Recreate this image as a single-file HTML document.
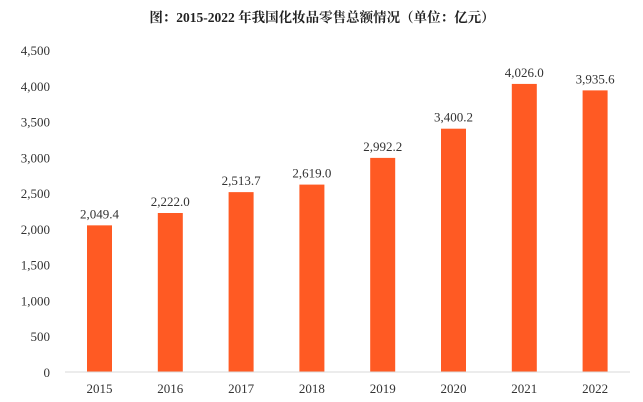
<!DOCTYPE html>
<html><head><meta charset="utf-8"><style>
body{margin:0;background:#fff;}
svg{display:block;}
text{font-family:"Liberation Serif","Noto Serif CJK SC",serif;}
</style></head><body>
<svg id="chart" width="643" height="402" viewBox="0 0 643 402">
<text x="322" y="22" text-anchor="middle" font-size="13.5" font-weight="bold" fill="#222" font-family="Liberation Serif, Noto Serif CJK SC, serif">图：2015-2022 年我国化妆品零售总额情况（单位：亿元）</text>
<g id="yaxis"></g><g id="bars"></g>
<line x1="65" y1="372" x2="630" y2="372" stroke="#d9d9d9" stroke-width="1"/>
</svg>
<script>
const categories=["2015","2016","2017","2018","2019","2020","2021","2022"];
const values=[2049.4,2222.0,2513.7,2619.0,2992.2,3400.2,4026.0,3935.6];
const valueLabels=["2,049.4","2,222.0","2,513.7","2,619.0","2,992.2","3,400.2","4,026.0","3,935.6"];
const ticks=[0,500,1000,1500,2000,2500,3000,3500,4000,4500];
const tickLabels=["0","500","1,000","1,500","2,000","2,500","3,000","3,500","4,000","4,500"];
const NS="http://www.w3.org/2000/svg";
const FF="Liberation Serif, Noto Serif CJK SC, serif";
const y=v=>372-v*322/4500;
const x=i=>99.5+i*70.8;
const ya=document.getElementById('yaxis'),bg=document.getElementById('bars');
ticks.forEach((t,i)=>{const e=document.createElementNS(NS,'text');


e.setAttribute('font-family',FF);
e.setAttribute('x',50);e.setAttribute('y',y(t)+5);e.setAttribute('text-anchor','end');e.setAttribute('font-size','13');e.setAttribute('fill','#333');e.textContent=tickLabels[i];ya.appendChild(e);});
values.forEach((v,i)=>{const r=document.createElementNS(NS,'rect');


r.setAttribute('x',x(i)-12.5);r.setAttribute('y',y(v));r.setAttribute('width',25);r.setAttribute('height',372-y(v));r.setAttribute('fill','#FF5A23');bg.appendChild(r);
const l=document.createElementNS(NS,'text');


l.setAttribute('font-family',FF);
l.setAttribute('x',x(i));l.setAttribute('y',y(v)-7);l.setAttribute('text-anchor','middle');l.setAttribute('font-size','13');l.setAttribute('fill','#333');l.textContent=valueLabels[i];bg.appendChild(l);
const c=document.createElementNS(NS,'text');


c.setAttribute('font-family',FF);
c.setAttribute('x',x(i));c.setAttribute('y',393);c.setAttribute('text-anchor','middle');c.setAttribute('font-size','13');c.setAttribute('fill','#333');c.textContent=categories[i];bg.appendChild(c);});
</script>
</body></html>
